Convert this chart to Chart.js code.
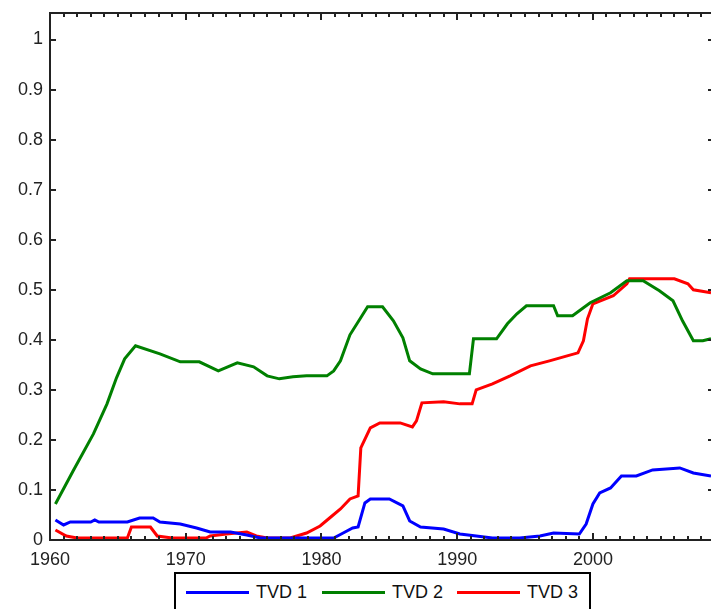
<!DOCTYPE html>
<html lang="en">
<head>
<meta charset="UTF-8">
<title>TVD</title>
<script src="https://cdn.jsdelivr.net/npm/chart.js"></script>
<style>
  body { margin: 0; background: #fff; }
  #wrap { position: relative; width: 711px; height: 609px; overflow: hidden; }
  #legend {
    position: absolute; left: 174px; top: 572px; width: 413px; height: 50px;
    border: 2px solid #000; background: #fff;
    font: 18px "Liberation Sans", Arial, sans-serif; color: #111;
  }
  #legend .item { position: absolute; top: 8px; display: flex; align-items: center; white-space: nowrap; }
  #legend .swatch { display: inline-block; height: 3px; margin-right: 7px; }
</style>
</head>
<body>
<div id="wrap">
  <canvas id="chart" width="711" height="609"></canvas>
  <div id="legend"></div>
</div>
<script>
// series: years and values per line
const tvd1Years = [1960.4, 1961.0, 1961.5, 1963.0, 1963.3, 1963.6, 1965.7, 1966.6, 1967.6, 1968.1, 1969.6, 1970.8, 1971.8, 1973.3, 1974.5, 1975.5, 1980.9, 1981.6, 1982.3, 1982.7, 1983.2, 1983.6, 1985.0, 1986.0, 1986.5, 1987.3, 1989.0, 1990.2, 1991.4, 1992.6, 1994.6, 1996.1, 1997.1, 1999.0, 1999.5, 2000.0, 2000.5, 2001.3, 2002.1, 2003.2, 2004.4, 2006.4, 2007.4, 2008.7];
const tvd1 = [0.040, 0.030, 0.036, 0.036, 0.040, 0.036, 0.036, 0.044, 0.044, 0.036, 0.032, 0.024, 0.016, 0.016, 0.010, 0.004, 0.004, 0.014, 0.024, 0.026, 0.074, 0.082, 0.082, 0.068, 0.038, 0.026, 0.022, 0.012, 0.008, 0.004, 0.004, 0.008, 0.014, 0.012, 0.032, 0.072, 0.094, 0.104, 0.128, 0.128, 0.140, 0.144, 0.134, 0.128];

const tvd2Years = [1960.4, 1961.7, 1963.2, 1964.2, 1964.9, 1965.5, 1966.3, 1968.1, 1969.6, 1971.0, 1972.4, 1973.8, 1975.0, 1976.0, 1976.9, 1977.9, 1978.9, 1980.4, 1980.9, 1981.4, 1982.1, 1982.8, 1983.4, 1984.5, 1985.3, 1986.0, 1986.5, 1987.3, 1988.2, 1990.9, 1991.2, 1992.9, 1993.7, 1994.4, 1995.1, 1997.1, 1997.4, 1998.5, 1999.8, 2001.3, 2002.5, 2003.7, 2004.9, 2005.9, 2006.6, 2007.4, 2008.1, 2008.7];
const tvd2 = [0.072, 0.138, 0.212, 0.272, 0.324, 0.362, 0.388, 0.372, 0.356, 0.356, 0.338, 0.354, 0.346, 0.328, 0.322, 0.326, 0.328, 0.328, 0.338, 0.358, 0.410, 0.440, 0.466, 0.466, 0.438, 0.404, 0.358, 0.342, 0.332, 0.332, 0.402, 0.402, 0.432, 0.452, 0.468, 0.468, 0.448, 0.448, 0.474, 0.494, 0.518, 0.518, 0.498, 0.478, 0.438, 0.398, 0.398, 0.402];

const tvd3Years = [1960.4, 1961.2, 1962.0, 1965.7, 1966.0, 1967.4, 1967.9, 1969.0, 1971.5, 1971.8, 1973.0, 1974.5, 1975.2, 1976.0, 1977.7, 1978.9, 1979.9, 1980.6, 1981.4, 1982.1, 1982.7, 1982.9, 1983.6, 1984.3, 1985.8, 1986.7, 1987.0, 1987.4, 1989.0, 1990.2, 1991.1, 1991.4, 1992.6, 1993.9, 1995.4, 1996.8, 1998.1, 1998.9, 1999.3, 1999.6, 2000.0, 2001.5, 2002.5, 2002.7, 2006.0, 2007.0, 2007.4, 2008.7];
const tvd3 = [0.020, 0.008, 0.004, 0.004, 0.026, 0.026, 0.008, 0.004, 0.004, 0.008, 0.012, 0.016, 0.008, 0.004, 0.004, 0.014, 0.028, 0.044, 0.062, 0.082, 0.088, 0.184, 0.224, 0.234, 0.234, 0.226, 0.238, 0.274, 0.276, 0.272, 0.272, 0.300, 0.312, 0.328, 0.348, 0.358, 0.368, 0.374, 0.398, 0.442, 0.472, 0.488, 0.512, 0.522, 0.522, 0.512, 0.500, 0.494];

const seriesNames = ['TVD 1', 'TVD 2', 'TVD 3'];
const seriesColors = ['#0000ff', '#008000', '#ff0000'];

const xMin = 1960, xMax = 2008.7;
const yMin = 0, yMax = 1.053;

function pairs(xs, ys) {
    return xs.map((x, i) => ({ x: x, y: ys[i] }));
}

// inward tick marks and frame, like the original plot
const framePlugin = {
    id: 'frame',
    afterDatasetsDraw(chart) {
        const ctx = chart.ctx;
        const a = chart.chartArea;
        const xs = chart.scales.x, ys = chart.scales.y;
        ctx.save();
        ctx.strokeStyle = '#222';
        ctx.lineWidth = 2;
        ctx.beginPath();
        ctx.moveTo(a.left, a.top); ctx.lineTo(a.right + 2, a.top);
        ctx.moveTo(a.left, a.top - 1); ctx.lineTo(a.left, a.bottom + 1);
        ctx.moveTo(a.left - 1, a.bottom); ctx.lineTo(a.right + 2, a.bottom);
        ctx.stroke();
        ctx.beginPath();
        for (let yr = 1960; yr <= xMax; yr++) {
            const px = Math.round(xs.getPixelForValue(yr));
            const len = yr % 10 === 0 ? 7 : 4;
            ctx.moveTo(px, a.bottom); ctx.lineTo(px, a.bottom - len);
            ctx.moveTo(px, a.top); ctx.lineTo(px, a.top + len);
        }
        for (let k = 0; k <= 10; k++) {
            const py = Math.round(ys.getPixelForValue(k / 10));
            ctx.moveTo(a.left, py); ctx.lineTo(a.left + 6, py);
            ctx.moveTo(a.right, py); ctx.lineTo(a.right - 3, py);
        }
        ctx.stroke();
        ctx.restore();
    }
};

const chart = new Chart(document.getElementById('chart'), {
    type: 'line',
    data: {
        datasets: [
            { label: seriesNames[0], data: pairs(tvd1Years, tvd1), borderColor: seriesColors[0] },
            { label: seriesNames[1], data: pairs(tvd2Years, tvd2), borderColor: seriesColors[1] },
            { label: seriesNames[2], data: pairs(tvd3Years, tvd3), borderColor: seriesColors[2] }
        ]
    },
    options: {
        responsive: false,
        animation: false,
        layout: { padding: { top: 13, right: 0, left: 0, bottom: 0 } },
        elements: {
            line: { borderWidth: 3, tension: 0, fill: false },
            point: { radius: 0 }
        },
        plugins: { legend: { display: false }, tooltip: { enabled: false } },
        scales: {
            x: {
                type: 'linear', min: xMin, max: xMax,
                grid: { display: false, drawTicks: false },
                border: { display: false },
                ticks: {
                    stepSize: 10, includeBounds: false, padding: 9, maxRotation: 0,
                    color: '#222', font: { family: '"Liberation Sans", Arial, sans-serif', size: 18 },
                    callback: v => String(v)
                },
                afterFit: s => { s.height = 69; s.paddingLeft = 0; s.paddingRight = 0; }
            },
            y: {
                min: yMin, max: yMax,
                grid: { display: false, drawTicks: false },
                border: { display: false },
                ticks: {
                    stepSize: 0.1, includeBounds: false, padding: 7,
                    color: '#222', font: { family: '"Liberation Sans", Arial, sans-serif', size: 18 },
                    callback: v => String(+v.toFixed(1))
                },
                afterFit: s => { s.width = 50; s.paddingTop = 0; s.paddingBottom = 0; }
            }
        }
    },
    plugins: [framePlugin]
});

// legend box below the plot, built from the datasets
const legend = document.getElementById('legend');
const itemLeft = [10, 146, 281];
chart.data.datasets.forEach((ds, i) => {
    const item = document.createElement('div');
    item.className = 'item';
    item.style.left = itemLeft[i] + 'px';
    const sw = document.createElement('span');
    sw.className = 'swatch';
    sw.style.width = '63px';
    sw.style.background = ds.borderColor;
    const tx = document.createElement('span');
    tx.textContent = ds.label;
    item.appendChild(sw);
    item.appendChild(tx);
    legend.appendChild(item);
});
</script>
</body>
</html>
